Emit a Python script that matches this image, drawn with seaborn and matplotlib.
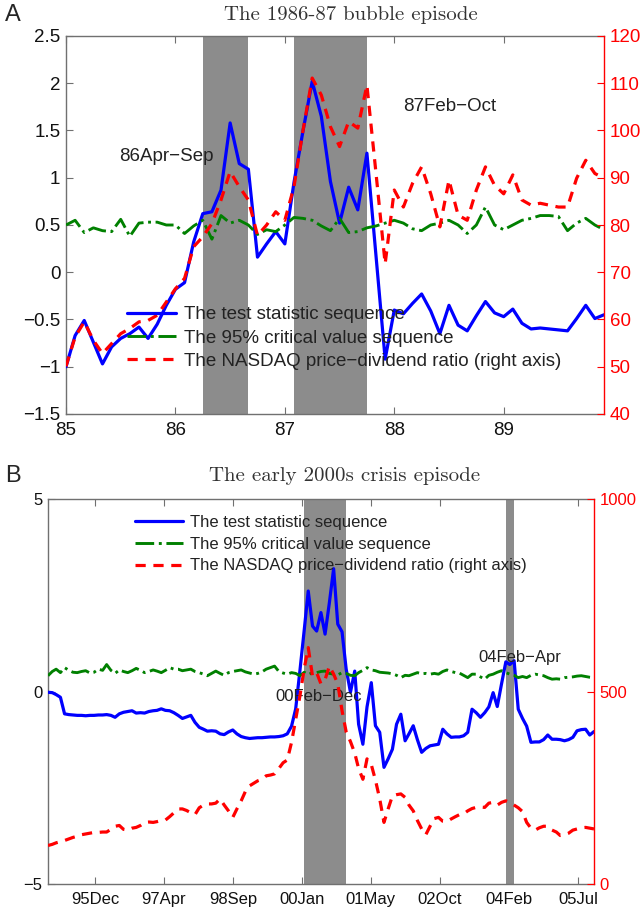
import numpy as np
import pandas as pd
import matplotlib
matplotlib.use("Agg")
import matplotlib.pyplot as plt
import matplotlib.dates as mdates
from matplotlib.ticker import FuncFormatter, FixedLocator
from matplotlib.lines import Line2D
import seaborn as sns

# ---------------- Panel A data (monthly, Jan 1985 - Dec 1989) ----------------
a_test = [-1.00, -0.67, -0.51, -0.74, -0.97, -0.79, -0.70, -0.65, -0.58, -0.70,
          -0.55, -0.35, -0.18, -0.11, 0.32, 0.62, 0.64, 0.87, 1.58, 1.15,
          1.09, 0.16, 0.30, 0.43, 0.30, 0.95, 1.50, 2.02, 1.65, 0.96,
          0.52, 0.90, 0.66, 1.26, 0.17, -0.92, -0.40, -0.44, -0.33, -0.23,
          -0.41, -0.65, -0.35, -0.56, -0.62, -0.46, -0.31, -0.43, -0.47, -0.39,
          -0.54, -0.60, -0.59, -0.60, -0.61, -0.62, -0.49, -0.35, -0.49, -0.45]
a_crit = [0.50, 0.55, 0.42, 0.47, 0.44, 0.43, 0.56, 0.38, 0.52, 0.53,
          0.53, 0.50, 0.50, 0.41, 0.49, 0.55, 0.35, 0.60, 0.52, 0.55,
          0.50, 0.40, 0.45, 0.43, 0.50, 0.58, 0.57, 0.55, 0.49, 0.44,
          0.57, 0.42, 0.43, 0.47, 0.49, 0.52, 0.55, 0.52, 0.46, 0.44,
          0.50, 0.52, 0.55, 0.50, 0.41, 0.50, 0.69, 0.50, 0.45, 0.50,
          0.55, 0.57, 0.60, 0.60, 0.59, 0.44, 0.52, 0.57, 0.50, 0.45]
a_pd = [50.1, 56.3, 59.5, 55.6, 52.8, 54.9, 57.0, 58.1, 59.5, 59.8,
        60.9, 63.7, 66.5, 68.7, 75.4, 77.5, 80.3, 85.3, 91.3, 88.1,
        85.3, 77.8, 80.0, 82.8, 81.0, 88.1, 100.1, 111.1, 107.5, 100.8,
        96.6, 101.9, 100.5, 109.6, 90.9, 71.8, 87.4, 83.8, 88.8, 92.3,
        86.6, 79.6, 89.5, 82.1, 81.0, 87.4, 92.3, 88.4, 86.6, 90.6,
        85.3, 84.2, 84.6, 84.2, 83.8, 83.8, 89.9, 93.7, 90.9, 89.9]
a_years = [85 + i / 12 for i in range(len(a_test))]
a_shades = [(86 + 3 / 12, 86 + 8 / 12), (87 + 1 / 12, 87 + 9 / 12)]
a_xticks = [85, 86, 87, 88, 89]
a_left_ticks = [-1.5, -1, -0.5, 0, 0.5, 1, 1.5, 2, 2.5]
a_right_ticks = [40, 50, 60, 70, 80, 90, 100, 110, 120]
a_notes = [("86Apr\u2212Sep", 85.49, 1.22), ("87Feb\u2212Oct", 88.08, 1.75)]

# ---------------- Panel B data (monthly, Jan 1995 - Nov 2005) ----------------
b_test = [-0.02, -0.03, -0.08, -0.15, -0.58, -0.60, -0.61, -0.62, -0.62, -0.63,
          -0.62, -0.62, -0.61, -0.61, -0.60, -0.62, -0.67, -0.58, -0.54, -0.52,
          -0.50, -0.56, -0.55, -0.56, -0.52, -0.50, -0.49, -0.45, -0.49, -0.50,
          -0.55, -0.62, -0.70, -0.66, -0.62, -0.80, -0.93, -0.98, -1.03, -1.02,
          -1.03, -1.10, -1.12, -1.05, -1.00, -1.10, -1.17, -1.20, -1.22, -1.21,
          -1.20, -1.20, -1.19, -1.18, -1.18, -1.17, -1.15, -1.10, -0.90, -0.45,
          0.55, 1.60, 2.61, 1.70, 1.57, 2.05, 1.49, 2.30, 3.19, 1.75,
          1.55, 0.58, -0.02, 0.53, -0.85, -1.37, -0.40, 0.23, -0.89, -1.06,
          -1.97, -1.75, -1.50, -0.85, -0.59, -1.28, -1.10, -0.89, -1.25, -1.58,
          -1.48, -1.41, -1.39, -1.37, -0.98, -1.10, -1.19, -1.18, -1.18, -1.15,
          -1.06, -0.46, -0.55, -0.67, -0.55, -0.40, -0.03, -0.39, 0.20, 0.77,
          0.70, 0.80, -0.46, -0.70, -0.90, -1.32, -1.31, -1.31, -1.25, -1.13,
          -1.24, -1.24, -1.25, -1.28, -1.25, -1.19, -1.02, -0.99, -0.98, -1.13,
          -1.04]
b_crit = [0.41, 0.52, 0.58, 0.49, 0.62, 0.55, 0.50, 0.49, 0.52, 0.54,
          0.48, 0.50, 0.58, 0.55, 0.70, 0.55, 0.47, 0.56, 0.52, 0.49,
          0.54, 0.60, 0.55, 0.49, 0.52, 0.56, 0.53, 0.49, 0.55, 0.62,
          0.58, 0.58, 0.54, 0.56, 0.58, 0.52, 0.49, 0.45, 0.41, 0.47,
          0.53, 0.47, 0.42, 0.49, 0.52, 0.54, 0.56, 0.51, 0.48, 0.45,
          0.47, 0.51, 0.58, 0.62, 0.66, 0.52, 0.48, 0.45, 0.49, 0.47,
          0.41, 0.50, 0.44, 0.49, 0.49, 0.52, 0.53, 0.47, 0.45, 0.43,
          0.49, 0.47, 0.42, 0.41, 0.49, 0.55, 0.62, 0.56, 0.54, 0.50,
          0.49, 0.48, 0.46, 0.42, 0.36, 0.42, 0.41, 0.45, 0.49, 0.46,
          0.47, 0.45, 0.47, 0.45, 0.52, 0.56, 0.52, 0.49, 0.48, 0.42,
          0.36, 0.45, 0.45, 0.38, 0.32, 0.42, 0.45, 0.50, 0.54, 0.49,
          0.45, 0.42, 0.36, 0.39, 0.36, 0.42, 0.45, 0.43, 0.41, 0.36,
          0.32, 0.33, 0.32, 0.36, 0.37, 0.38, 0.40, 0.41, 0.39, 0.37,
          0.36]
b_pd = [100, 103, 107, 110, 113, 117, 121, 124, 128, 130,
        132, 134, 134, 135, 135, 142, 150, 152, 142, 140,
        145, 147, 152, 160, 161, 160, 162, 165, 166, 175,
        185, 195, 195, 191, 185, 180, 198, 205, 208, 208,
        210, 221, 205, 190, 173, 195, 216, 240, 255, 262,
        268, 272, 281, 283, 286, 300, 315, 322, 368, 428,
        489, 560, 614, 540, 549, 520, 531, 566, 545, 520,
        450, 395, 370, 340, 300, 272, 325, 310, 270, 221,
        160, 195, 229, 232, 234, 225, 205, 190, 165, 143,
        128, 150, 170, 173, 163, 162, 169, 175, 180, 182,
        190, 196, 199, 200, 199, 210, 212, 205, 212, 216,
        212, 205, 198, 188, 160, 145, 140, 146, 150, 150,
        140, 135, 126, 128, 132, 140, 143, 146, 147, 145,
        143]
b_dates = pd.date_range("1995-01-01", periods=len(b_test), freq="MS")
b_shades = [("2000-02-01", "2000-12-01"), ("2004-02-01", "2004-04-01")]
b_left_ticks = [-5, 0, 5]
b_right_ticks = [0, 500, 1000]
b_notes = [("00Feb\u2212Dec", "1999-07-10", -0.12), ("04Feb\u2212Apr", "2003-07-16", 0.89)]

labels = ["The test statistic sequence",
          "The 95% critical value sequence",
          "The NASDAQ price\u2212dividend ratio (right axis)"]

# ---------------- style ----------------
sns.set_style("white")
plt.rcParams["font.family"] = ["Liberation Sans", "DejaVu Sans"]
plt.rcParams["axes.unicode_minus"] = True

BLUE = "#0000ff"
GREEN = "#008000"
RED = "#ff0000"
SHADE = "#8c8c8c"
SPINE = "#707070"

fig = plt.figure(figsize=(6.42, 9.10), dpi=100)
axA = fig.add_axes([66 / 642, 1 - 414 / 910, (604 - 66) / 642, (414 - 36) / 910])
axB = fig.add_axes([48 / 642, 1 - 884 / 910, (594 - 48) / 642, (884 - 499) / 910])


def minus_fmt(v, pos):
    return ("%g" % v).replace("-", "\u2212")


def style_axes(ax, ax2, fs):
    for s in ["left", "top", "bottom"]:
        ax.spines[s].set_color(SPINE)
        ax.spines[s].set_linewidth(1.0)
    ax.spines["right"].set_visible(False)
    for s in ["left", "top", "bottom"]:
        ax2.spines[s].set_visible(False)
    ax2.spines["right"].set_color(RED)
    ax2.spines["right"].set_linewidth(1.0)
    ax.tick_params(axis="x", direction="in", top=True, bottom=True, length=5,
                   color=SPINE, labelsize=fs, pad=6, labelcolor="#111111")
    ax.tick_params(axis="y", direction="in", left=True, right=False, length=5,
                   color=SPINE, labelsize=fs, pad=4, labelcolor="#111111")
    ax2.tick_params(axis="y", direction="in", right=True, length=5,
                    color=RED, labelcolor=RED, labelsize=fs, pad=4)
    ax.set_xlabel("")
    ax.set_ylabel("")
    ax2.set_xlabel("")
    ax2.set_ylabel("")


def draw_series(ax, ax2, x, test, crit, pdr, lw):
    sns.lineplot(x=x, y=test, ax=ax, color=BLUE, linewidth=lw, zorder=3)
    sns.lineplot(x=x, y=crit, ax=ax, color=GREEN, linewidth=lw * 0.9,
                 linestyle="-.", zorder=3)
    sns.lineplot(x=x, y=pdr, ax=ax2, color=RED, linewidth=lw,
                 linestyle=(0, (3.2, 2.4)), zorder=3)


# ---------------- Panel A ----------------
axA2 = axA.twinx()
for x0, x1 in a_shades:
    axA.axvspan(x0, x1, color=SHADE, lw=0, zorder=1)
draw_series(axA, axA2, a_years, a_test, a_crit, a_pd, 2.3)
axA.set_xlim(a_years[0], a_years[-1])
axA.set_ylim(min(a_left_ticks), max(a_left_ticks))
axA2.set_ylim(min(a_right_ticks), max(a_right_ticks))
axA.xaxis.set_major_locator(FixedLocator(a_xticks))
axA.set_xticklabels([str(t) for t in a_xticks])
axA.yaxis.set_major_locator(FixedLocator(a_left_ticks))
axA.yaxis.set_major_formatter(FuncFormatter(minus_fmt))
axA2.yaxis.set_major_locator(FixedLocator(a_right_ticks))
style_axes(axA, axA2, 13.5)
for txt, xv, yv in a_notes:
    axA.text(xv, yv, txt, fontsize=13.5, color="#222222", ha="left", va="center",
             zorder=6)

hA = [Line2D([], [], color=BLUE, lw=2.3),
      Line2D([], [], color=GREEN, lw=2.1, ls="-."),
      Line2D([], [], color=RED, lw=2.3, ls=(0, (3.2, 2.4)))]
legA = axA2.legend(hA, labels, loc="center left", bbox_to_anchor=(0.113, 0.201),
                   frameon=False, fontsize=13.5, borderpad=0, borderaxespad=0,
                   handlelength=2.6, handletextpad=0.45, labelspacing=0.33)
for t in legA.get_texts():
    t.set_color("#222222")

# ---------------- Panel B ----------------
axB2 = axB.twinx()
for d0, d1 in b_shades:
    axB.axvspan(pd.Timestamp(d0), pd.Timestamp(d1), color=SHADE, lw=0, zorder=1)
draw_series(axB, axB2, b_dates, b_test, b_crit, b_pd, 2.3)
axB.set_xlim(b_dates[0], b_dates[-1])
axB.set_ylim(min(b_left_ticks), max(b_left_ticks))
axB2.set_ylim(min(b_right_ticks), max(b_right_ticks))
b_xticks = [pd.Timestamp("1995-12-07") + pd.Timedelta(days=500 * k) for k in range(8)]
axB.xaxis.set_major_locator(FixedLocator(mdates.date2num(b_xticks)))
axB.xaxis.set_major_formatter(mdates.DateFormatter("%y%b"))
axB.yaxis.set_major_locator(FixedLocator(b_left_ticks))
axB.yaxis.set_major_formatter(FuncFormatter(minus_fmt))
axB2.yaxis.set_major_locator(FixedLocator(b_right_ticks))
style_axes(axB, axB2, 12)
for txt, xv, yv in b_notes:
    axB.text(pd.Timestamp(xv), yv, txt, fontsize=12, color="#222222", ha="left",
             va="center", zorder=6)

hB = [Line2D([], [], color=BLUE, lw=2.3),
      Line2D([], [], color=GREEN, lw=2.1, ls="-."),
      Line2D([], [], color=RED, lw=2.3, ls=(0, (3.2, 2.4)))]
legB = axB2.legend(hB, labels, loc="center left", bbox_to_anchor=(0.159, 0.883),
                   frameon=False, fontsize=12, borderpad=0, borderaxespad=0,
                   handlelength=2.9, handletextpad=0.42, labelspacing=0.41)
for t in legB.get_texts():
    t.set_color("#222222")

# ---------------- titles / panel letters ----------------
fig.text(351 / 642, 1 - 14.5 / 910, "The 1986-87 bubble episode", family="cmr10",
         fontsize=15, ha="center", va="center", color="#333333")
fig.text(345 / 642, 1 - 476 / 910, "The early 2000s crisis episode", family="cmr10",
         fontsize=15, ha="center", va="center", color="#333333")
fig.text(5 / 642, 1 - 15 / 910, "A", fontsize=17, ha="left", va="center")
fig.text(5 / 642, 1 - 476 / 910, "B", fontsize=17, ha="left", va="center")

fig.savefig("out.png", dpi=100)
